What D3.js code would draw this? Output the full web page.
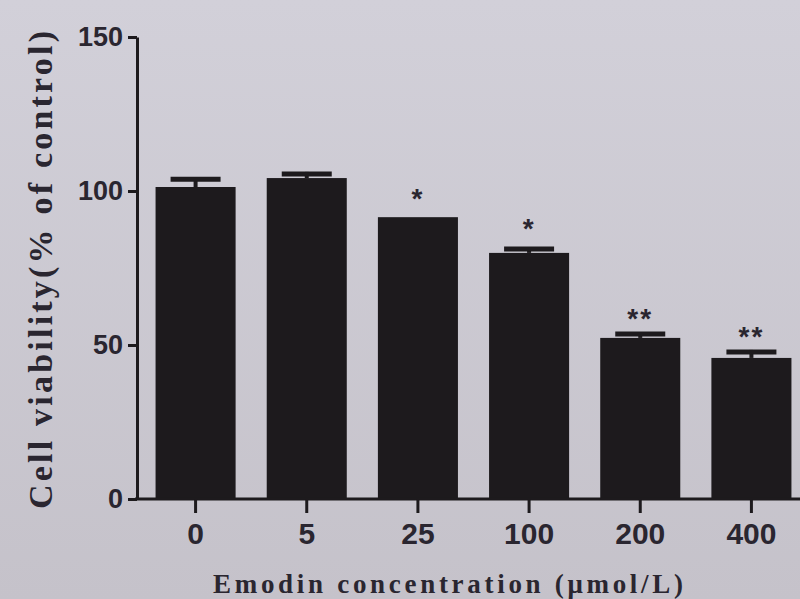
<!DOCTYPE html>
<html><head><meta charset="utf-8">
<script src="https://cdn.jsdelivr.net/npm/d3@7"></script>
<style>html,body{margin:0;padding:0;background:#cdcad3;}svg{display:block;}</style>
</head><body>
<svg id="c" width="800" height="599"></svg>
<script>
const categories = ["0", "5", "25", "100", "200", "400"];
const means = [101.3, 104.2, 91.5, 79.9, 52.3, 45.8];
const errors = [3.2, 2.0, 0, 1.9, 1.9, 2.6];
const marks = ["", "", "*", "*", "**", "**"];
const yTicks = [0, 50, 100, 150];

const svg = d3.select("#c");
const defs = svg.append("defs");
const g0 = defs.append("linearGradient").attr("id","bg").attr("x1",0).attr("y1",0).attr("x2",0).attr("y2",1);
g0.append("stop").attr("offset","0%").attr("stop-color","#d2d0d9");
g0.append("stop").attr("offset","100%").attr("stop-color","#c5c2ca");
svg.append("rect").attr("width",800).attr("height",599).attr("fill","url(#bg)");

const x = d3.scaleBand().domain(categories).range([140, 807]).paddingInner(0.28).paddingOuter(0.14);
const y = d3.scaleLinear().domain([0, 150]).range([499, 37]);
const ink = "#1d1a1d";
const txt = "#2a2630";

// bars
svg.selectAll("rect.bar").data(categories).join("rect").attr("class","bar")
  .attr("x", d => x(d)).attr("width", x.bandwidth())
  .attr("y", (d,i) => y(means[i])).attr("height", (d,i) => y(0) - y(means[i]))
  .attr("fill", ink);

// error bars (upper only)
categories.forEach((c,i) => {
  if (!errors[i]) return;
  const cx = x(c) + x.bandwidth()/2, top = y(means[i] + errors[i]);
  svg.append("line").attr("x1",cx).attr("x2",cx).attr("y1",y(means[i])).attr("y2",top)
    .attr("stroke",ink).attr("stroke-width",4);
  svg.append("line").attr("x1",cx-25).attr("x2",cx+25).attr("y1",top+2).attr("y2",top+2)
    .attr("stroke",ink).attr("stroke-width",5);
});

// significance marks
svg.selectAll("text.sig").data(categories).join("text").attr("class","sig")
  .attr("x", d => x(d) + x.bandwidth()/2)
  .attr("y", (d,i) => y(means[i] + errors[i]) - 4 + (marks[i].length>1 ? 0 : -5))
  .attr("text-anchor","middle").attr("font-family","Liberation Sans, Arial, sans-serif")
  .attr("font-weight","bold").attr("font-size",28).attr("letter-spacing",2).attr("fill",txt)
  .text((d,i) => marks[i]);

// y axis
const yAxis = d3.axisLeft(y).tickValues(yTicks).tickSize(9).tickSizeOuter(0);
const ya = svg.append("g").attr("transform","translate(137,0)").call(yAxis);
ya.select(".domain").attr("stroke",ink).attr("stroke-width",3);
ya.selectAll(".tick line").attr("stroke",ink).attr("stroke-width",3);
ya.selectAll(".tick text").attr("font-family","Liberation Sans, Arial, sans-serif")
  .attr("font-weight","bold").attr("font-size",27).attr("fill",txt).attr("x",-14);

// x axis
const xAxis = d3.axisBottom(x).tickSize(14).tickSizeOuter(0);
const xa = svg.append("g").attr("transform","translate(0,499)").call(xAxis);
xa.select(".domain").attr("d","M135,0H800").attr("stroke",ink).attr("stroke-width",3);
xa.selectAll(".tick line").attr("stroke",ink).attr("stroke-width",3);
xa.selectAll(".tick text").attr("font-family","Liberation Sans, Arial, sans-serif")
  .attr("font-weight","bold").attr("font-size",30).attr("fill",txt).attr("y",24);

// axis titles
svg.append("text").attr("transform","translate(52,270) rotate(-90)")
  .attr("text-anchor","middle").attr("font-family","Liberation Serif, Times New Roman, serif")
  .attr("font-weight","bold").attr("font-size",34).attr("fill",txt)
  .attr("textLength",478).attr("lengthAdjust","spacing")
  .text("Cell viability(% of control)");
svg.append("text").attr("x",448).attr("y",593)
  .attr("text-anchor","middle").attr("font-family","Liberation Serif, Times New Roman, serif")
  .attr("font-weight","bold").attr("font-size",27).attr("fill",txt)
  .attr("textLength",470).attr("lengthAdjust","spacing")
  .text("Emodin concentration (μmol/L)");
</script>
</body></html>
